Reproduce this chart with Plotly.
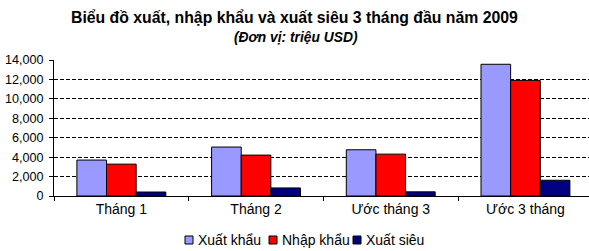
import plotly.graph_objects as go

categories = ["Tháng 1", "Tháng 2", "Ước tháng 3", "Ước 3 tháng"]
xuat_khau = [3700, 5040, 4760, 13560]
nhap_khau = [3280, 4210, 4310, 11900]
xuat_sieu = [410, 830, 430, 1620]
y_ticks = [0, 2000, 4000, 6000, 8000, 10000, 12000, 14000]

series_names = ["Xuất khẩu", "Nhập khẩu", "Xuất siêu"]
series_colors = ["#9999FF", "#FF0000", "#000080"]
series_values = [xuat_khau, nhap_khau, xuat_sieu]

W, H = 589, 251
L, R, T, B = 54, 0, 60, 55
PW, PH = W - L - R, H - T - B


def px(x):
    return (x - L) / PW


def py(y):
    return (H - B - y) / PH


font = "Liberation Sans, Arial, sans-serif"

fig = go.Figure()
for name, vals, color in zip(series_names, series_values, series_colors):
    fig.add_trace(go.Bar(
        x=categories, y=vals, name=name, showlegend=False,
        marker=dict(color=color, line=dict(color="black", width=1)),
    ))
# invisible trace to carry the inner half of the y tick marks
fig.add_trace(go.Scatter(x=[None], y=[None], yaxis="y2", showlegend=False, hoverinfo="skip"))

annotations = [
    dict(text="<b>Biểu đồ xuất, nhập khẩu và xuất siêu 3 tháng đầu năm 2009</b>",
         xref="paper", yref="paper", x=px(294), y=py(17), xanchor="center", yanchor="middle",
         showarrow=False, font=dict(size=15.8, family=font, color="black")),
    dict(text="<b><i>(Đơn vị: triệu USD)</i></b>",
         xref="paper", yref="paper", x=px(296), y=py(37.5), xanchor="center", yanchor="middle",
         showarrow=False, font=dict(size=13.8, family=font, color="black")),
]
shapes = []
legend_x = [185, 269, 353]
for lx, name, color in zip(legend_x, series_names, series_colors):
    shapes.append(dict(type="rect", xref="paper", yref="paper",
                       x0=px(lx), x1=px(lx + 8), y0=py(244), y1=py(236),
                       fillcolor=color, line=dict(color="black", width=1)))
    annotations.append(dict(text=name, xref="paper", yref="paper", x=px(lx + 11), y=py(240),
                            xanchor="left", yanchor="middle", showarrow=False,
                            font=dict(size=14, family=font, color="black")))

fig.update_layout(
    width=W, height=H,
    margin=dict(l=L, r=R, t=T, b=B, autoexpand=False),
    paper_bgcolor="white", plot_bgcolor="white",
    barmode="group", bargap=0.34, bargroupgap=0,
    font=dict(family=font, size=13, color="black"),
    showlegend=False,
    annotations=annotations,
    shapes=shapes,
    yaxis=dict(
        range=[0, 14000], tickvals=y_ticks, tickformat=",",
        showgrid=True, gridcolor="black", griddash="4px,2px", gridwidth=1,
        showline=True, linecolor="black", linewidth=1,
        ticks="outside", ticklen=4, tickcolor="black", ticklabelstandoff=3,
        zeroline=False, tickfont=dict(size=12.6),
    ),
    yaxis2=dict(
        overlaying="y", side="left", range=[0, 14000], tickvals=y_ticks,
        showticklabels=False, showgrid=False, zeroline=False, showline=False,
        ticks="inside", ticklen=4, tickcolor="black",
    ),
    xaxis=dict(
        range=[-0.5, -0.5 + PW / 134.7],
        showline=True, linecolor="black", linewidth=1,
        ticks="outside", tickson="boundaries", ticklen=4, tickcolor="black",
        tickfont=dict(size=14),
    ),
)
fig.write_html("out.html")
